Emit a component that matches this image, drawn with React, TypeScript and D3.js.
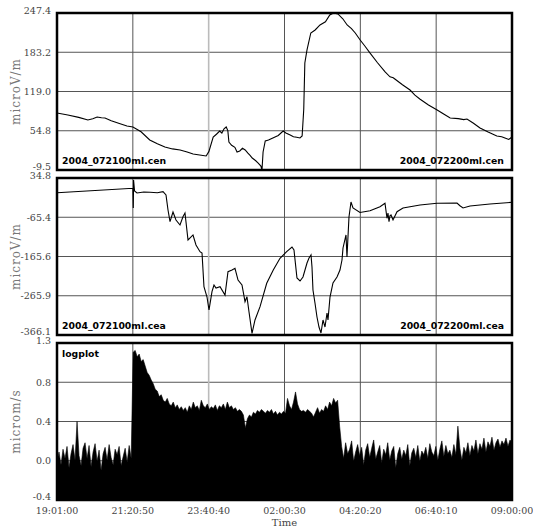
import React from "react";
import * as d3 from "d3";

const xTickLabels = ["19:01:00", "21:20:50", "23:40:40", "02:00:30", "04:20:20", "06:40:10", "09:00:00"];
const totalMinutes = 839;

const cenTicks = ["247.4", "183.2", "119.0", "54.8", "-9.5"];
const ceaTicks = ["34.8", "-65.4", "-165.6", "-265.9", "-366.1"];
const velTicks = ["1.3", "0.8", "0.4", "0.0", "-0.4"];

const cenDomain = [-9.5, 247.4];
const ceaDomain = [-366.1, 34.8];
const velDomain = [-0.4, 1.3];

// minutes after 19:01:00
const cenMinutes = [0, 20, 40, 57, 66, 74, 82, 88.5, 100, 115, 129, 140, 155, 171, 185, 199, 213, 227, 240, 251, 263, 275, 280, 288, 294, 300, 304, 308, 312, 315, 317, 322, 328, 332, 337, 342, 347, 352, 356, 360, 366, 371, 376, 378, 380, 384, 390, 396, 402, 408, 417, 422, 430, 436, 442, 448, 452, 455, 457, 461, 468, 476, 485, 495, 503, 510, 518, 527, 535, 543, 550, 559, 568, 577, 591, 605, 614, 620, 623, 637, 651, 660, 669, 685, 701, 713, 725, 740, 750, 756, 768, 780, 795, 811, 820, 826, 833, 839];
const cenValues = [83.8, 80.5, 76.6, 72.3, 74.5, 77.2, 76.0, 75.6, 71.0, 66.5, 62.5, 60.9, 53.0, 39.6, 33.5, 28.1, 25.0, 23.2, 19.8, 16.7, 15.0, 13.4, 20.5, 44.5, 49.0, 54.3, 51.0, 58.0, 60.9, 55.0, 36.3, 31.0, 27.5, 20.0, 21.6, 26.0, 23.2, 18.0, 14.5, 10.1, 6.0, 1.9, -3.0, -9.5, 20.0, 38.0, 39.5, 42.0, 44.5, 47.0, 54.3, 51.0, 47.8, 45.0, 44.0, 42.9, 46.1, 90.0, 165.6, 186.9, 214.7, 219.6, 227.8, 233.0, 244.1, 247.4, 245.8, 238.0, 227.8, 222.0, 214.7, 203.2, 193.0, 182.1, 166.0, 150.9, 143.0, 141.5, 139.4, 130.0, 121.4, 113.0, 106.7, 97.0, 88.7, 82.0, 75.6, 74.5, 73.0, 74.0, 67.0, 59.2, 52.5, 46.1, 45.0, 42.9, 40.5, 44.5];

const ceaMinutes = [0, 140, 140.7, 141.2, 143, 147.5, 160, 171.5, 185, 195.5, 201, 204.7, 208.4, 213.9, 219.4, 226.8, 232.3, 236, 241.6, 250.8, 256.3, 263.7, 267.4, 271, 276.6, 280.3, 285.8, 289.5, 293.2, 300.6, 309.8, 315.3, 322.7, 328.2, 333.8, 341.1, 346.7, 350.3, 354, 359.6, 365.1, 374.4, 386.7, 398.8, 411.2, 423.5, 433.3, 437, 442.5, 448.1, 453.6, 461, 464.7, 468.4, 470.2, 472, 475.7, 479.4, 483.1, 486.8, 490.5, 494.2, 497.9, 499.7, 503.4, 508.9, 516.3, 521.8, 525.5, 527.4, 532.9, 534.7, 538.4, 542.1, 545.8, 558.7, 577.2, 595.6, 604.8, 608.5, 610.3, 612.2, 614, 615.9, 619.6, 627, 638, 669.4, 700.7, 737.6, 743, 748.7, 761.6, 798.4, 839];
const ceaValues = [-2.7, 8.5, -41.8, 29.7, 1.6, -3.5, -1.0, -1.7, -3.0, -0.2, -8.6, -46.9, -76.8, -52.0, -72.4, -85.2, -64.0, -54.6, -123.5, -110.7, -136.3, -153.4, -156.7, -242.8, -269.1, -302.3, -255.5, -238.4, -246.1, -242.8, -264.0, -204.5, -200.1, -195.8, -225.7, -238.4, -281.1, -268.3, -306.6, -361.8, -327.8, -293.8, -234.1, -200.1, -170.2, -153.4, -141.4, -149.1, -220.5, -228.2, -218.0, -182.2, -169.5, -161.8, -192.5, -251.2, -284.4, -320.1, -345.7, -361.0, -327.8, -345.7, -309.9, -327.8, -269.1, -233.3, -218.0, -200.1, -174.6, -143.9, -110.7, -166.9, -64.8, -26.5, -41.8, -53.3, -48.7, -38.5, -29.8, -68.1, -55.0, -76.8, -62.0, -59.7, -72.4, -51.3, -41.8, -34.1, -29.8, -29.0, -36.0, -41.8, -36.7, -31.6, -27.3];

// evenly spaced samples over the whole time span
const velValues = [
  0.02, 0.12, -0.02, 0.15, 0.05, 0.18, -0.05, 0.10, 0.20, 0.03,
  0.45, 0.08, -0.03, 0.16, 0.22, 0.05, 0.19, -0.04, 0.12, 0.21,
  0.02, 0.14, -0.08, 0.10, 0.17, 0.03, 0.20, 0.06, -0.02, 0.15,
  0.09, 0.18, -0.03, 0.07, 0.16, 0.01, 0.19, 0.05,
  1.20, 1.22, 1.15, 1.18, 1.10, 1.12, 1.05, 0.98, 0.95, 0.90,
  0.86, 0.80, 0.78, 0.72, 0.74, 0.68, 0.66, 0.70, 0.64, 0.62,
  0.66, 0.60, 0.63, 0.58, 0.61, 0.57, 0.60, 0.55, 0.62, 0.58,
  0.66, 0.60, 0.62, 0.57, 0.68, 0.62, 0.60, 0.64, 0.58, 0.61,
  0.59, 0.63, 0.57, 0.62, 0.60, 0.64, 0.58, 0.66, 0.60, 0.62,
  0.58, 0.60, 0.56, 0.58, 0.56, 0.52, 0.38, 0.48, 0.52, 0.50,
  0.55, 0.53, 0.57, 0.55, 0.58, 0.56, 0.54, 0.57, 0.55, 0.58,
  0.53, 0.56, 0.52, 0.55, 0.53, 0.56, 0.54, 0.70, 0.62, 0.58,
  0.66, 0.77, 0.64, 0.58, 0.56, 0.57, 0.55, 0.58, 0.56, 0.54,
  0.50, 0.55, 0.60, 0.54, 0.58, 0.56, 0.62, 0.58, 0.66, 0.62,
  0.70, 0.65, 0.68, 0.40,
  0.18, 0.05, 0.22, 0.10, 0.15, 0.24, 0.02, 0.12, 0.20, 0.08,
  0.17, -0.02, 0.14, 0.21, 0.06, 0.16, 0.25, 0.04, 0.12, 0.19,
  0.00, 0.15, 0.09, 0.22, 0.03, 0.13, 0.18, -0.05, 0.10, 0.17,
  0.04, 0.14, 0.08, 0.20, -0.03, 0.11, 0.16, 0.06, 0.19, 0.02,
  0.13, 0.09, 0.17, 0.05, 0.21, 0.12, 0.08, 0.18, 0.03, 0.15,
  0.24, 0.07, 0.19, 0.10, 0.14, 0.06, 0.20, 0.09, 0.40, 0.16,
  0.03, 0.17, 0.11, 0.22, 0.08, 0.19, 0.13, 0.25, 0.10, 0.21,
  0.15, 0.27, 0.12, 0.23, 0.18, 0.28, 0.14, 0.22, 0.26, 0.17,
  0.24, 0.20, 0.27, 0.18, 0.25, 0.22,
];

const W = 533;
const H = 529;
const LEFT = 57;
const RIGHT = 512;
const PH = 157;
const panelTops = [13, 178, 343];

const serif = "'DejaVu Serif', serif";
const bold = "'DejaVu Sans', sans-serif";

const x = d3.scaleLinear().domain([0, totalMinutes]).range([LEFT, RIGHT]);
const xTickVals = xTickLabels.map((_, i) => (i * totalMinutes) / (xTickLabels.length - 1));

function Panel({ top, domain, ticks, title, id, children }: any) {
  const y = d3.scaleLinear().domain(domain).range([top + PH, top]);
  const n = ticks.length - 1;
  const tickVals = ticks.map((_: string, i: number) => domain[1] - (i * (domain[1] - domain[0])) / n);
  return (
    <g>
      <defs>
        <clipPath id={id}>
          <rect x={LEFT} y={top} width={RIGHT - LEFT} height={PH} />
        </clipPath>
      </defs>
      {tickVals.slice(1, -1).map((v: number, i: number) => (
        <line key={"h" + i} x1={LEFT} x2={RIGHT} y1={y(v)} y2={y(v)} stroke="#555" strokeWidth={1} />
      ))}
      {xTickVals.slice(1, -1).map((v, i) => (
        <line
          key={"v" + i}
          x1={x(v)}
          x2={x(v)}
          y1={top}
          y2={top + PH}
          stroke={i === 1 ? "#bbb" : "#555"}
          strokeWidth={i === 1 ? 1.6 : 1}
        />
      ))}
      <g clipPath={`url(#${id})`}>{children(y)}</g>
      <rect x={LEFT} y={top} width={RIGHT - LEFT} height={PH} fill="none" stroke="#000" strokeWidth={2.5} />
      {tickVals.map((v: number, i: number) => (
        <text
          key={"t" + i}
          x={51}
          y={i === 0 ? y(v) + 0.5 : i === n ? y(v) - 0.5 : y(v)}
          dy={i === 0 || i === n ? "0" : "0.35em"}
          textAnchor="end"
          fontFamily={serif}
          fontSize={9.5}
          fill="#444"
        >
          {ticks[i]}
        </text>
      ))}
      <text
        transform={`translate(20,${top + PH / 2}) rotate(-90)`}
        textAnchor="middle"
        fontFamily={serif}
        fontSize={12}
        letterSpacing={1}
        fill="#777"
      >
        {title}
      </text>
    </g>
  );
}

export default function App() {
  const cenPts = cenMinutes.map((m, i) => [m, cenValues[i]] as [number, number]);
  const ceaPts = ceaMinutes.map((m, i) => [m, ceaValues[i]] as [number, number]);
  const step = totalMinutes / (velValues.length - 1);
  const velPts = velValues.map((v, i) => [i * step, v] as [number, number]);

  const labelStyle = { fontFamily: bold, fontWeight: 700, fontSize: 9.3, fill: "#000" } as any;

  return (
    <svg width={W} height={H} style={{ position: "absolute", left: 0, top: 0 }}>
      <rect width={W} height={H} fill="#fff" />
      <Panel top={panelTops[0]} domain={cenDomain} ticks={cenTicks} title="microV/m" id="c1">
        {(y: any) => (
          <path
            d={d3.line<[number, number]>().x((d) => x(d[0])).y((d) => y(d[1]))(cenPts) || ""}
            fill="none"
            stroke="#000"
            strokeWidth={1.1}
          />
        )}
      </Panel>
      <Panel top={panelTops[1]} domain={ceaDomain} ticks={ceaTicks} title="microV/m" id="c2">
        {(y: any) => (
          <path
            d={d3.line<[number, number]>().x((d) => x(d[0])).y((d) => y(d[1]))(ceaPts) || ""}
            fill="none"
            stroke="#000"
            strokeWidth={1.1}
          />
        )}
      </Panel>
      <Panel top={panelTops[2]} domain={velDomain} ticks={velTicks} title="microm/s" id="c3">
        {(y: any) => (
          <path
            d={
              d3
                .area<[number, number]>()
                .x((d) => x(d[0]))
                .y0(y(velDomain[0]))
                .y1((d) => y(d[1]))(velPts) || ""
            }
            fill="#000"
            stroke="#000"
            strokeWidth={0.6}
          />
        )}
      </Panel>

      <text x={LEFT + 5} y={panelTops[0] + PH - 6} {...labelStyle}>2004_072100ml.cen</text>
      <text x={RIGHT - 8} y={panelTops[0] + PH - 6} textAnchor="end" {...labelStyle}>2004_072200ml.cen</text>
      <text x={LEFT + 5} y={panelTops[1] + PH - 6.5} {...labelStyle}>2004_072100ml.cea</text>
      <text x={RIGHT - 8} y={panelTops[1] + PH - 6.5} textAnchor="end" {...labelStyle}>2004_072200ml.cea</text>
      <text x={LEFT + 5} y={panelTops[2] + 14} {...labelStyle}>logplot</text>

      {xTickVals.map((v, i) => (
        <text key={i} x={x(v)} y={514} textAnchor="middle" fontFamily={serif} fontSize={9.5} fill="#444">
          {xTickLabels[i]}
        </text>
      ))}
      <text x={(LEFT + RIGHT) / 2} y={526} textAnchor="middle" fontFamily={serif} fontSize={10} fill="#444">
        Time
      </text>
    </svg>
  );
}
